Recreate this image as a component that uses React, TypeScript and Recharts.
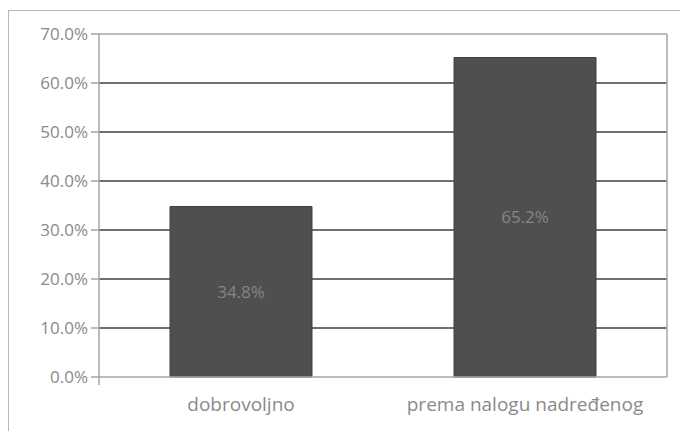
import { BarChart, Bar, XAxis, YAxis, CartesianGrid, LabelList } from 'recharts';

const categories = ['dobrovoljno', 'prema nalogu nadređenog'];
const shares = [0.348, 0.652];
const yTicks = [0, 0.1, 0.2, 0.3, 0.4, 0.5, 0.6, 0.7];
const gridValues = [0.1, 0.2, 0.3, 0.4, 0.5, 0.6];
const edgeTicks = [0, 1, 2];

const data = categories.map((name, i) => ({ name, value: shares[i] }));

const pct = (v: number) => `${(v * 100).toFixed(1)}%`;
const font = '"Open Sans", sans-serif';
const labelGray = '#8a8a8a';
const axisGray = '#a6a6a6';

export default function App() {
  return (
    <div style={{ position: 'absolute', left: 0, top: 0, width: 680, height: 431, background: '#fff' }}>
      {/* outer chart frame */}
      <div
        style={{
          position: 'absolute',
          left: 8,
          top: 10,
          width: 680,
          height: 431,
          borderTop: '1px solid #b8b8b8',
          borderLeft: '1px solid #b8b8b8',
        }}
      />
      <BarChart
        width={680}
        height={431}
        data={data}
        margin={{ top: 33, right: 12, bottom: 24, left: 0 }}
        barCategoryGap="25%"
        style={{ position: 'absolute', left: 0, top: 0 }}
      >
        <CartesianGrid
          xAxisId="cat"
          yAxisId="left"
          vertical={false}
          horizontalValues={gridValues}
          stroke="#3f3f3f"
          strokeWidth={1.5}
        />
        <XAxis
          xAxisId="cat"
          dataKey="name"
          height={29}
          axisLine={false}
          tickLine={false}
          tickMargin={14}
          tick={{ fill: labelGray, fontSize: 19, fontFamily: font }}
        />
        {/* baseline with ticks at the category boundaries */}
        <XAxis
          xAxisId="a_base"
          type="number"
          domain={[0, 2]}
          allowDataOverflow
          ticks={edgeTicks}
          tick={() => <g />}
          height={1}
          tickSize={8}
          axisLine={{ stroke: axisGray, strokeWidth: 1.5 }}
          tickLine={{ stroke: axisGray, strokeWidth: 1.5 }}
        />
        <XAxis
          xAxisId="top"
          orientation="top"
          type="number"
          domain={[0, 2]}
          allowDataOverflow
          height={1}
          tick={false}
          tickLine={false}
          axisLine={{ stroke: axisGray, strokeWidth: 1.5 }}
        />
        <YAxis
          yAxisId="left"
          domain={[0, 0.7]}
          ticks={yTicks}
          tickFormatter={pct}
          width={99}
          tickSize={8}
          tickMargin={3}
          interval={0}
          axisLine={{ stroke: axisGray, strokeWidth: 1.5 }}
          tickLine={{ stroke: axisGray, strokeWidth: 1.5 }}
          tick={{ fill: labelGray, fontSize: 17, fontFamily: font }}
        />
        <YAxis
          yAxisId="right"
          orientation="right"
          domain={[0, 0.7]}
          allowDataOverflow
          width={1}
          tick={false}
          tickLine={false}
          axisLine={{ stroke: axisGray, strokeWidth: 1.5 }}
        />
        <Bar
          dataKey="value"
          xAxisId="cat"
          yAxisId="left"
          fill="#4f4f4f"
          stroke="#404040"
          isAnimationActive={false}
        >
          <LabelList
            dataKey="value"
            position="center"
            formatter={(v: any) => pct(Number(v))}
            style={{ fill: '#858585', fontSize: 17, fontFamily: font }}
          />
        </Bar>
      </BarChart>
    </div>
  );
}
